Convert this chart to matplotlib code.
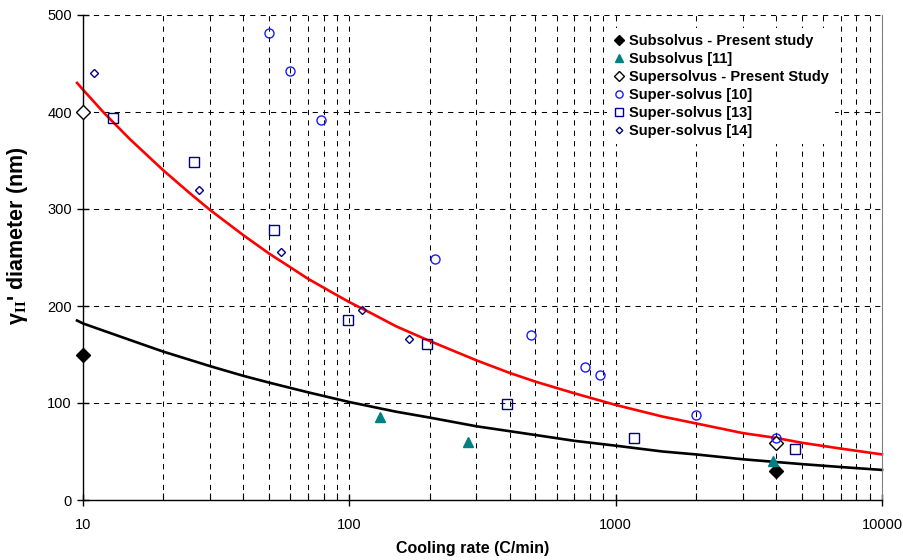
#!/usr/bin/env python3
"""
Secondary gamma prime size vs cooling rate (sub- and super-solvus).

Usage: python plot.py
"""

import matplotlib
matplotlib.use("Agg")
import matplotlib.pyplot as plt
from matplotlib.ticker import LogLocator, FixedLocator, NullFormatter

plt.rcParams["font.family"] = ["Liberation Sans", "DejaVu Sans"]
plt.rcParams["mathtext.fontset"] = "custom"
plt.rcParams["mathtext.rm"] = "Liberation Serif"
plt.rcParams["mathtext.bf"] = "Liberation Serif:bold"

# measured points (cooling rate C/min, diameter nm)
sub_present_x = [10, 4000]
sub_present_y = [150, 30]

sub_11_x = [130, 280, 3900]
sub_11_y = [86, 60, 40]

super_present_x = [10, 4000]
super_present_y = [400, 59]

super_10_x = [50, 60, 78, 210, 480, 770, 870, 2000, 4000]
super_10_y = [481, 442, 392, 248, 170, 137, 129, 88, 64]

super_13_x = [13, 26, 52, 99, 196, 390, 1170, 4700]
super_13_y = [394, 348, 278, 186, 161, 99, 64, 53]

super_14_x = [11, 27.3, 55.4, 112, 167]
super_14_y = [440, 320, 256, 196, 166]

# trend lines
red_x = [9.5, 10, 12, 15, 20, 25, 30, 40, 50, 60, 70, 80, 90, 100, 120, 150, 200,
         250, 300, 400, 500, 700, 1000, 1500, 2000, 3000, 4000, 5000, 7000, 10000]
red_y = [430, 423, 399, 372, 340, 317, 299, 273, 254, 240, 228, 219, 211, 204, 193,
         179, 164, 153, 144, 131, 122, 110, 98, 86, 79, 69, 64, 59, 53, 47]

black_x = [9.5, 10, 15, 20, 30, 40, 50, 70, 100, 150, 200, 300, 500, 700,
           1000, 1500, 2000, 3000, 5000, 7000, 10000]
black_y = [185, 182, 165, 153, 138, 128, 121, 111, 101, 91, 85, 76, 67, 61,
           56, 50, 47, 42, 37, 34, 31]

y_ticks = [0, 100, 200, 300, 400, 500]
x_ticks = [10, 100, 1000, 10000]


def plot_chart():
    fig = plt.figure(figsize=(9.04, 5.6), dpi=100)
    ax = fig.add_axes([83 / 904, 60 / 560, 799 / 904, 485 / 560])

    ax.set_xscale("log")
    ax.set_xlim(10, 10000)
    ax.set_ylim(0, 500)

    # grid, dashed black on every minor/major x and every 100 nm
    ax.grid(True, which="both", axis="x", color="black", lw=0.75,
            linestyle=(0, (5, 5)))
    ax.grid(True, which="major", axis="y", color="black", lw=0.75,
            linestyle=(0, (5, 5)))
    ax.set_axisbelow(True)

    ax.plot(red_x, red_y, color="red", lw=1.9, clip_on=False, zorder=2)
    ax.plot(black_x, black_y, color="black", lw=1.9, clip_on=False, zorder=2)

    ax.plot(sub_present_x, sub_present_y, "D", color="black", ms=7,
            label="Subsolvus - Present study", clip_on=False, zorder=3)
    ax.plot(sub_11_x, sub_11_y, "^", color="#008080", ms=6.5,
            label="Subsolvus [11]", clip_on=False, zorder=3)
    ax.plot(super_present_x, super_present_y, "D", mfc="white", mec="black",
            mew=1.0, ms=7, label="Supersolvus - Present Study", clip_on=False, zorder=3)
    ax.plot(super_10_x, super_10_y, "o", mfc="none", mec="#1a1aff", mew=1.0,
            ms=6.5, label="Super-solvus [10]", clip_on=False, zorder=3)
    ax.plot(super_13_x, super_13_y, "s", mfc="none", mec="#000080", mew=1.0,
            ms=7, label="Super-solvus [13]", clip_on=False, zorder=3)
    ax.plot(super_14_x, super_14_y, "D", mfc="none", mec="#000080", mew=1.0,
            ms=4.2, label="Super-solvus [14]", clip_on=False, zorder=3)

    ax.xaxis.set_major_locator(FixedLocator(x_ticks))
    ax.xaxis.set_minor_locator(LogLocator(base=10, subs=range(2, 10)))
    ax.xaxis.set_minor_formatter(NullFormatter())
    ax.set_xticklabels([str(v) for v in x_ticks])
    ax.set_yticks(y_ticks)

    ax.tick_params(which="major", direction="inout", length=8, width=1,
                   labelsize=10.5)
    ax.tick_params(which="minor", direction="in", length=5, width=0.8)
    ax.tick_params(axis="y", pad=4)
    ax.tick_params(axis="x", pad=9)

    ax.spines["top"].set_visible(False)
    ax.spines["right"].set_color("#808080")
    for side in ("left", "bottom"):
        ax.spines[side].set_linewidth(1.0)

    ax.set_xlabel("Cooling rate (C/min)", fontsize=11.5, fontweight="bold")
    ax.xaxis.set_label_coords(0.488, -0.085)
    ax.set_ylabel("γ${}_{\\mathbf{II}}$' diameter (nm)", fontsize=15.5,
                  fontweight="bold")
    ax.yaxis.set_label_coords(-0.066, 0.544)

    leg = ax.legend(loc="upper left", bbox_to_anchor=(600 / 904, 1 - 21 / 560),
                    bbox_transform=fig.transFigure,
                    frameon=True, fancybox=False, framealpha=1,
                    facecolor="white", edgecolor="none",
                    prop={"weight": "bold", "size": 10.5},
                    handlelength=0.8, handletextpad=0.3, labelspacing=0.27,
                    borderpad=0.4, markerscale=0.8)
    leg.set_zorder(5)

    fig.savefig("out.png", dpi=100)


if __name__ == "__main__":
    plot_chart()
